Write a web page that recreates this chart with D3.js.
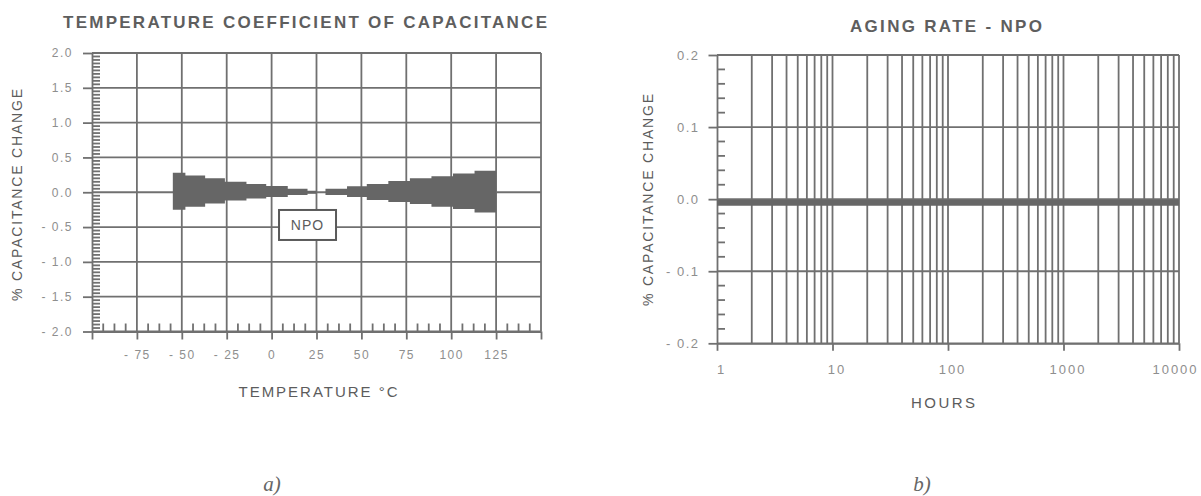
<!DOCTYPE html>
<html>
<head>
<meta charset="utf-8">
<script src="https://cdn.jsdelivr.net/npm/d3@7"></script>
<style>
  body { margin: 0; background: #fff; }
  svg { display: block; font-family: "Liberation Sans", Arial, sans-serif; }
  .grid line, .minor line { stroke: #707070; stroke-width: 1.8; }
  .axis path, .axis line { stroke: #707070; stroke-width: 1.8; }
  .axis text { fill: #8e8e8e; font-size: 12px; letter-spacing: 1.5px; }
  .title { fill: #5e5e5e; font-weight: bold; font-size: 17px; }
  .label { fill: #5c5c5c; font-size: 14px; }
  .panel { fill: #666; font-family: "Liberation Serif", "Times New Roman", serif; font-style: italic; font-size: 21px; }
</style>
</head>
<body>
<svg width="1201" height="496"></svg>
<script>
// panel a) temperature coefficient of capacitance
const tempTicks = [-100, -75, -50, -25, 0, 25, 50, 75, 100, 125, 150];
const capTicks = [-2, -1.5, -1, -0.5, 0, 0.5, 1, 1.5, 2];
const bandEdges = [-55, -48, -37, -26, -14, -3, 9, 20, 25, 30, 42, 53, 65, 77, 89, 101, 113, 125];
const bandUpper = [0.28, 0.24, 0.20, 0.15, 0.12, 0.09, 0.05, 0.02, 0, 0.05, 0.085, 0.12, 0.16, 0.20, 0.23, 0.27, 0.31];
const bandLower = [-0.25, -0.21, -0.16, -0.12, -0.09, -0.07, -0.04, -0.02, 0, -0.04, -0.07, -0.11, -0.14, -0.17, -0.21, -0.24, -0.29];

// panel b) aging rate
const hours = [1, 10, 100, 1000, 10000];
const agingChange = [-0.005, -0.005, -0.005, -0.005, -0.005];
const agingTicks = [-0.2, -0.1, 0, 0.1, 0.2];
const hourLabels = [1, 10, 100, 1000, 10000];

const svg = d3.select('svg');
const neg = f => d => d < 0 ? '- ' + f(-d) : f(d);

// ---------- panel a ----------
const a = {left: 92, top: 53, width: 449, height: 278.5};
const ga = svg.append('g').attr('transform', `translate(${a.left},${a.top})`);
const xA = d3.scaleLinear().domain([-100, 150]).range([0, a.width]);
const yA = d3.scaleLinear().domain([-2, 2]).range([a.height, 0]);

ga.append('g').attr('class', 'grid')
  .selectAll('line').data(capTicks).enter().append('line')
  .attr('x1', 0).attr('x2', a.width)
  .attr('y1', d => yA(d)).attr('y2', d => yA(d));
ga.append('g').attr('class', 'grid')
  .selectAll('line').data(tempTicks.filter(d => d > -100)).enter().append('line')
  .attr('x1', d => xA(d)).attr('x2', d => xA(d))
  .attr('y1', 0).attr('y2', a.height);

// minor ticks
ga.append('g').attr('class', 'minor')
  .selectAll('line').data(d3.range(-2, 2.001, 0.05).filter(d => Math.abs(d * 2 - Math.round(d * 2)) > 1e-6))
  .enter().append('line')
  .attr('x1', 0).attr('x2', 8)
  .attr('y1', d => yA(d)).attr('y2', d => yA(d));
ga.append('g').attr('class', 'minor')
  .selectAll('line').data(d3.range(-100, 150, 6.25).filter(d => d % 25 !== 0))
  .enter().append('line')
  .attr('x1', d => xA(d)).attr('x2', d => xA(d))
  .attr('y1', a.height - 8).attr('y2', a.height);

ga.append('g').attr('class', 'axis')
  .call(d3.axisLeft(yA).tickValues(capTicks).tickSize(9).tickSizeOuter(0).tickPadding(10)
    .tickFormat(neg(d3.format('.1f'))));
ga.append('g').attr('class', 'axis')
  .attr('transform', `translate(0,${a.height})`)
  .call(d3.axisBottom(xA).tickValues(tempTicks).tickSize(8).tickSizeOuter(0).tickPadding(11)
    .tickFormat(d => (d === -100 || d === 150) ? '' : neg(d3.format('d'))(d)));

// band, drawn as one stepped area
const bandPts = bandEdges.map((t, i) => {
  const j = Math.min(i, bandUpper.length - 1);
  return {t: t, hi: bandUpper[j], lo: bandLower[j]};
});
const band = d3.area()
  .x(d => xA(d.t))
  .y0(d => yA(d.lo))
  .y1(d => yA(d.hi))
  .curve(d3.curveStepAfter);
ga.append('path')
  .attr('d', band(bandPts))
  .attr('fill', '#666');

// NPO box
const npo = ga.append('g').attr('transform', `translate(${xA(20)},${yA(-0.47)})`);
npo.append('rect').attr('x', -28.5).attr('y', -15).attr('width', 57).attr('height', 30)
  .attr('fill', '#fff').attr('stroke', '#5a5a5a').attr('stroke-width', 2);
npo.append('text').attr('class', 'label').attr('text-anchor', 'middle').attr('dy', '0.36em')
  .style('letter-spacing', '1px').text('NPO');

svg.append('text').attr('class', 'title')
  .attr('x', 63).attr('y', 28).attr('textLength', 484).attr('lengthAdjust', 'spacing')
  .text('TEMPERATURE COEFFICIENT OF CAPACITANCE');
svg.append('text').attr('class', 'label').attr('text-anchor', 'middle')
  .attr('x', 318).attr('y', 397).attr('textLength', 159).attr('lengthAdjust', 'spacing')
  .style('font-size', '15px')
  .text('TEMPERATURE °C');
svg.append('text').attr('class', 'label').attr('text-anchor', 'middle')
  .attr('transform', 'translate(17,195) rotate(-90)').attr('dy', '0.35em')
  .attr('textLength', 212).attr('lengthAdjust', 'spacing')
  .text('% CAPACITANCE CHANGE');

// ---------- panel b ----------
const b = {left: 717, top: 55, width: 462, height: 288.3};
const gb = svg.append('g').attr('transform', `translate(${b.left},${b.top})`);
const xB = d3.scaleLog().domain([1, 10000]).range([0, b.width]);
const yB = d3.scaleLinear().domain([-0.2, 0.2]).range([b.height, 0]);

gb.append('g').attr('class', 'grid')
  .selectAll('line').data(agingTicks).enter().append('line')
  .attr('x1', 0).attr('x2', b.width)
  .attr('y1', d => yB(d)).attr('y2', d => yB(d));
gb.append('g').attr('class', 'grid')
  .selectAll('line').data(xB.ticks().filter(d => d > 1)).enter().append('line')
  .attr('x1', d => xB(d)).attr('x2', d => xB(d))
  .attr('y1', 0).attr('y2', b.height);

gb.append('g').attr('class', 'minor')
  .selectAll('line').data(d3.range(-0.2, 0.2001, 0.02).filter(d => Math.abs(d * 10 - Math.round(d * 10)) > 1e-6))
  .enter().append('line')
  .attr('x1', 0).attr('x2', 8)
  .attr('y1', d => yB(d)).attr('y2', d => yB(d));

gb.append('g').attr('class', 'axis')
  .call(d3.axisLeft(yB).tickValues(agingTicks).tickSize(8.5).tickSizeOuter(0).tickPadding(9)
    .tickFormat(neg(d3.format('.1f'))))
  .selectAll('text').style('font-size', '13px');
gb.append('g').attr('class', 'axis')
  .attr('transform', `translate(0,${b.height})`)
  .call(d3.axisBottom(xB).tickValues(hourLabels).tickSize(7.5).tickSizeOuter(0).tickPadding(14)
    .tickFormat(d3.format('d')))
  .selectAll('text').style('font-size', '13px').style('letter-spacing', '2px')
  .attr('dx', d => d === 10000 ? -4 : 4);

const line = d3.line().x((d, i) => xB(hours[i])).y(d => yB(d));
gb.append('path')
  .attr('d', line(agingChange))
  .attr('fill', 'none').attr('stroke', '#666').attr('stroke-width', 6);

svg.append('text').attr('class', 'title').attr('text-anchor', 'middle')
  .attr('x', 946).attr('y', 32).attr('textLength', 192).attr('lengthAdjust', 'spacing')
  .text('AGING RATE - NPO');
svg.append('text').attr('class', 'label').attr('text-anchor', 'middle')
  .attr('x', 943).attr('y', 408).attr('textLength', 64).attr('lengthAdjust', 'spacing')
  .style('font-size', '15px')
  .text('HOURS');
svg.append('text').attr('class', 'label').attr('text-anchor', 'middle')
  .attr('transform', 'translate(648,200) rotate(-90)').attr('dy', '0.35em')
  .attr('textLength', 212).attr('lengthAdjust', 'spacing')
  .text('% CAPACITANCE CHANGE');

// panel captions
svg.append('text').attr('class', 'panel').attr('text-anchor', 'middle')
  .attr('x', 272).attr('y', 491).text('a)');
svg.append('text').attr('class', 'panel').attr('text-anchor', 'middle')
  .attr('x', 922).attr('y', 491).text('b)');
</script>
</body>
</html>
